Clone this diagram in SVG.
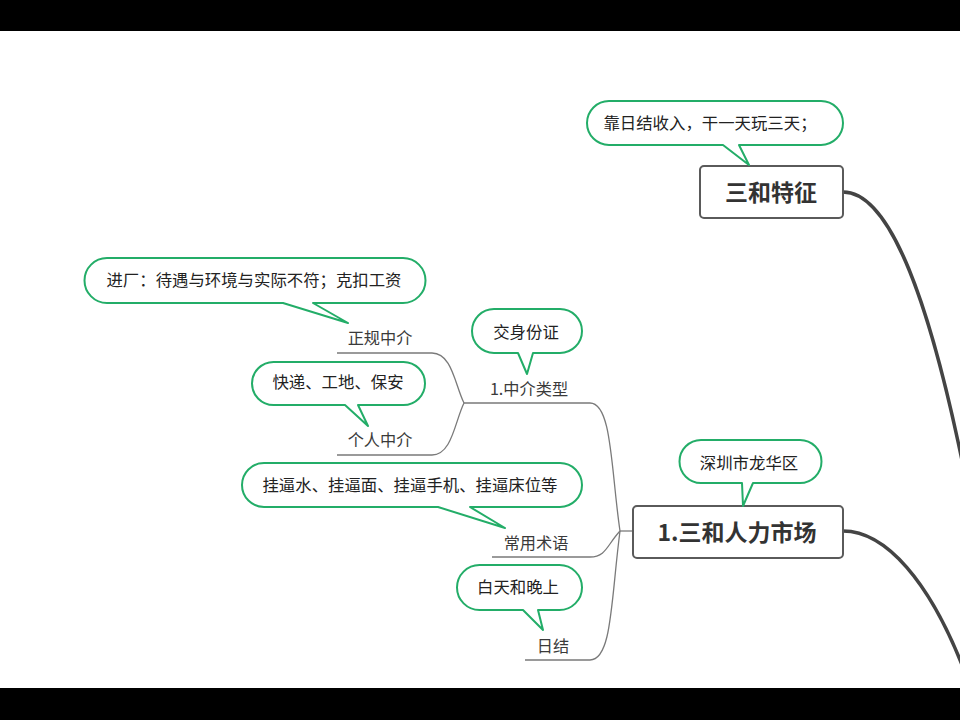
<svg xmlns="http://www.w3.org/2000/svg" width="960" height="720" viewBox="0 0 960 720">
<style>
.bar{fill:#000}
.bub{fill:#fff;stroke:#23ad68;stroke-width:2;stroke-linejoin:round}
.bt{font-family:"Microsoft YaHei","Noto Sans CJK SC",sans-serif;font-size:16.4px;fill:#222;text-anchor:middle}
.lb{font-family:"Microsoft YaHei","Noto Sans CJK SC",sans-serif;font-size:16.2px;fill:#3a3a3a;text-anchor:middle}
.box{fill:#fff;stroke:#5a5a5a;stroke-width:2}
.mt{font-family:"Microsoft YaHei","Noto Sans CJK SC",sans-serif;font-size:23px;font-weight:bold;fill:#333;text-anchor:middle}
.thin{fill:none;stroke:#7a7a7a;stroke-width:1.3}
.thick{fill:none;stroke:#444;stroke-width:3.5}
</style>
<rect class="bar" x="0" y="0" width="960" height="31"/>
<rect class="bar" x="0" y="688" width="960" height="32"/>
<g id="connectors">
<path class="thick" d="M843,192 C890,192 930,300 966,480"/>
<path class="thick" d="M843,531 C885,531 930,580 966,675"/>
<path class="thin" d="M633,531 H620"/>
<path class="thin" d="M620,531 C611,470 612,403 590,403 H464"/>
<path class="thin" d="M620,531 C607,545 606,557 590,557 H492"/>
<path class="thin" d="M620,531 C611,600 612,660 590,660 H525"/>
<path class="thin" d="M464,403 C455,385 452,353 432,353 H337"/>
<path class="thin" d="M464,403 C455,421 452,455 432,455 H337"/>
</g>
<g id="n-sanhe-tezheng">
<rect class="box" x="700" y="166" width="143" height="52" rx="4"/>
<text class="mt" x="771" y="201">三和特征</text>
</g>
<g id="c-sanhe-tezheng">
<path class="bub" d="M609,101 H821 A22,22 0 0 1 821,145 H739 L749,165 L723,145 H609 A22,22 0 0 1 609,101 Z"/>
<text class="bt" x="710" y="129">靠日结收入，干一天玩三天；</text>
</g>
<g id="n-renli-shichang">
<rect class="box" x="633" y="506" width="210" height="52" rx="4"/>
<text class="mt" x="737" y="541">1.三和人力市场</text>
</g>
<g id="c-renli-shichang">
<path class="bub" d="M701,440 H800 A21.5,21.5 0 0 1 800,483 H753 L743,506 L742,483 H701 A21.5,21.5 0 0 1 701,440 Z"/>
<text class="bt" x="749" y="469">深圳市龙华区</text>
</g>
<g id="n-zhongjie-leixing">
<text class="lb" x="529" y="395">1.中介类型</text>
</g>
<g id="c-zhongjie-leixing">
<path class="bub" d="M494,309 H560 A22,22 0 0 1 560,353 H533 L527,374 L518,353 H494 A22,22 0 0 1 494,309 Z"/>
<text class="bt" x="526" y="338">交身份证</text>
</g>
<g id="n-zhenggui">
<text class="lb" x="380" y="344">正规中介</text>
</g>
<g id="c-zhenggui">
<path class="bub" d="M107,258 H403 A22.5,22.5 0 0 1 403,303 H313 L348,323 L283,303 H107 A22.5,22.5 0 0 1 107,258 Z"/>
<text class="bt" x="254" y="286">进厂：待遇与环境与实际不符；克扣工资</text>
</g>
<g id="n-geren">
<text class="lb" x="380" y="446">个人中介</text>
</g>
<g id="c-geren">
<path class="bub" d="M273.5,362 H403.5 A21.5,21.5 0 0 1 403.5,405 H358 L368,426 L345,405 H273.5 A21.5,21.5 0 0 1 273.5,362 Z"/>
<text class="bt" x="338" y="388">快递、工地、保安</text>
</g>
<g id="n-changyong">
<text class="lb" x="536" y="549">常用术语</text>
</g>
<g id="c-changyong">
<path class="bub" d="M264,463 H560 A22,22 0 0 1 560,507 H470 L505,528 L438,507 H264 A22,22 0 0 1 264,463 Z"/>
<text class="bt" x="410" y="491">挂逼水、挂逼面、挂逼手机、挂逼床位等</text>
</g>
<g id="n-rijie">
<text class="lb" x="553" y="652">日结</text>
</g>
<g id="c-rijie">
<path class="bub" d="M479.5,565 H559.5 A22.5,22.5 0 0 1 559.5,610 H538 L543,630 L523,610 H479.5 A22.5,22.5 0 0 1 479.5,565 Z"/>
<text class="bt" x="518" y="593">白天和晚上</text>
</g>
</svg>
